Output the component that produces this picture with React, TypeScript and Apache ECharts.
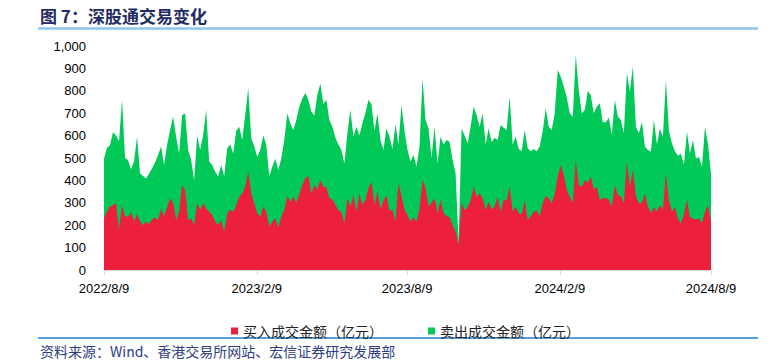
import React, { useEffect, useRef } from "react";
import * as echarts from "echarts";

// 买入成交金额（亿元）, sampled evenly from 2022/8/9 to 2024/8/9
const BUY = [
  231, 262, 283, 290, 298, 180, 290, 240, 238, 258,
  216, 250, 216, 200, 216, 205, 225, 235, 223, 275,
  240, 280, 320, 300, 223, 260, 379, 355, 223, 230,
  201, 300, 268, 298, 275, 260, 245, 216, 201, 223,
  171, 253, 268, 260, 290, 327, 342, 372, 439, 342,
  298, 253, 238, 283, 260, 193, 216, 231, 190, 238,
  268, 330, 305, 327, 300, 340, 380, 410, 420, 340,
  380, 360, 402, 372, 370, 320, 315, 290, 268, 260,
  208, 320, 283, 335, 260, 340, 290, 312, 365, 394,
  290, 350, 275, 310, 335, 265, 270, 216, 387, 330,
  270, 245, 216, 235, 216, 275, 402, 365, 283, 300,
  320, 253, 312, 253, 240, 235, 200, 171, 110, 300,
  268, 280, 310, 372, 327, 342, 320, 268, 305, 270,
  283, 327, 260, 312, 312, 372, 260, 283, 253, 250,
  312, 223, 240, 260, 265, 240, 300, 330, 320, 298,
  342, 417, 469, 424, 357, 327, 298, 491, 379, 370,
  402, 390, 417, 360, 370, 312, 320, 320, 315, 283,
  380, 335, 330, 298, 484, 372, 446, 330, 298, 300,
  342, 283, 253, 280, 260, 290, 270, 432, 310, 260,
  280, 230, 208, 250, 312, 235, 230, 225, 230, 210,
  260, 290, 215,
];

// 卖出成交金额（亿元）
const SELL = [
  267, 283, 275, 325, 302, 395, 469, 260, 253, 192,
  268, 345, 216, 220, 193, 225, 229, 245, 290, 276,
  229, 280, 305, 385, 372, 260, 313, 344, 313, 260,
  201, 300, 268, 305, 439, 224, 224, 223, 216, 246,
  246, 290, 292, 260, 330, 313, 238, 320, 372, 246,
  253, 253, 298, 317, 298, 224, 245, 267, 256, 260,
  312, 369, 350, 298, 370, 389, 386, 380, 340, 367,
  310, 421, 431, 368, 390, 350, 325, 300, 292, 276,
  268, 290, 431, 260, 380, 260, 365, 388, 395, 346,
  330, 349, 305, 226, 297, 330, 270, 434, 173, 407,
  350, 291, 268, 278, 245, 276, 454, 305, 349, 200,
  320, 223, 283, 307, 340, 338, 291, 261, 15, 332,
  332, 285, 330, 357, 365, 298, 379, 292, 327, 300,
  307, 253, 387, 323, 313, 402, 300, 312, 287, 280,
  313, 320, 290, 280, 265, 311, 320, 392, 320, 327,
  358, 476, 394, 394, 413, 373, 386, 469, 424, 330,
  312, 410, 363, 340, 359, 432, 340, 340, 365, 320,
  380, 349, 340, 312, 396, 424, 462, 310, 312, 362,
  209, 253, 275, 390, 300, 342, 325, 416, 310, 305,
  250, 280, 312, 220, 306, 285, 350, 273, 275, 250,
  380, 270, 215,
];

const TICK_LABELS = ["2022/8/9", "2023/2/9", "2023/8/9", "2024/2/9", "2024/8/9"];
const TICK_DAYS = [0, 184, 365, 549, 731];
const TOTAL_DAYS = 731;

const SERIES_NAMES = ["买入成交金额（亿元）", "卖出成交金额（亿元）"];
const COLORS = ["#EC1F3D", "#00C957"];
const TITLE = "图 7：深股通交易变化";
const SOURCE = "资料来源：Wind、香港交易所网站、宏信证券研究发展部";

const CJK = "'Noto Sans CJK SC', 'Noto Sans', sans-serif";
const LATIN = "'Liberation Sans', Arial, sans-serif";

export default function App() {
  const ref = useRef<HTMLDivElement>(null);

  useEffect(() => {
    if (!ref.current) return;
    const chart = echarts.init(ref.current, undefined, { renderer: "svg" });
    const step = TOTAL_DAYS / (BUY.length - 1);
    const buyData = BUY.map((v, i) => [i * step, v]);
    // stacked: sell area sits on top of buy area
    const sellTopData = SELL.map((v, i) => [i * step, v + BUY[i]]);

    chart.setOption({
      animation: false,
      backgroundColor: "#ffffff",
      grid: { left: 104, right: 69, top: 46, bottom: 94, containLabel: false },
      legend: {
        data: SERIES_NAMES,
        left: 226,
        top: 319,
        icon: "rect",
        itemWidth: 7,
        itemHeight: 7,
        itemGap: 45,
        textStyle: { fontSize: 14, color: "#222", fontFamily: CJK },
      },
      xAxis: {
        type: "value",
        min: 0,
        max: TOTAL_DAYS,
        splitLine: { show: false },
        axisLine: { show: true, lineStyle: { color: "#d9d9d9", width: 1 } },
        axisTick: {
          show: true,
          customValues: TICK_DAYS,
          length: 5,
          lineStyle: { color: "#d9d9d9" },
        },
        axisLabel: {
          customValues: TICK_DAYS,
          margin: 12,
          fontSize: 13,
          color: "#000",
          fontFamily: LATIN,
          formatter: (v: number) => {
            const idx = TICK_DAYS.indexOf(Math.round(v));
            return idx >= 0 ? TICK_LABELS[idx] : "";
          },
        },
      },
      yAxis: {
        type: "value",
        min: 0,
        max: 1000,
        interval: 100,
        splitLine: { show: false },
        axisLine: { show: false },
        axisTick: { show: false },
        axisLabel: {
          margin: 18,
          fontSize: 13,
          color: "#000",
          fontFamily: LATIN,
          formatter: (v: number) => v.toLocaleString("en-US"),
        },
      },
      series: [
        {
          name: SERIES_NAMES[1],
          type: "line",
          data: sellTopData,
          showSymbol: false,
          symbol: "none",
          z: 1,
          lineStyle: { width: 0 },
          itemStyle: { color: COLORS[1] },
          areaStyle: { color: COLORS[1], opacity: 1 },
        },
        {
          name: SERIES_NAMES[0],
          type: "line",
          data: buyData,
          showSymbol: false,
          symbol: "none",
          z: 2,
          lineStyle: { width: 0 },
          itemStyle: { color: COLORS[0] },
          areaStyle: { color: COLORS[0], opacity: 1 },
        },
      ],
      graphic: [
        {
          type: "text",
          left: 40,
          top: 7,
          style: {
            text: TITLE,
            fontSize: 17,
            fontWeight: "bold",
            fill: "#1F2B63",
            fontFamily: CJK,
          },
        },
        {
          type: "line",
          shape: { x1: 38, y1: 28.5, x2: 758, y2: 28.5 },
          style: { stroke: "#8CC6EC", lineWidth: 2.5 },
        },
        {
          type: "line",
          shape: { x1: 38, y1: 338, x2: 758, y2: 338 },
          style: { stroke: "#1E7FD0", lineWidth: 1.5 },
        },
        {
          type: "text",
          left: 40,
          top: 344,
          style: {
            text: SOURCE,
            fontSize: 14,
            fill: "#2E3D84",
            fontFamily: CJK,
          },
        },
      ],
    });

    return () => chart.dispose();
  }, []);

  return (
    <div
      ref={ref}
      style={{ position: "absolute", left: 0, top: 0, width: 780, height: 364 }}
    />
  );
}
